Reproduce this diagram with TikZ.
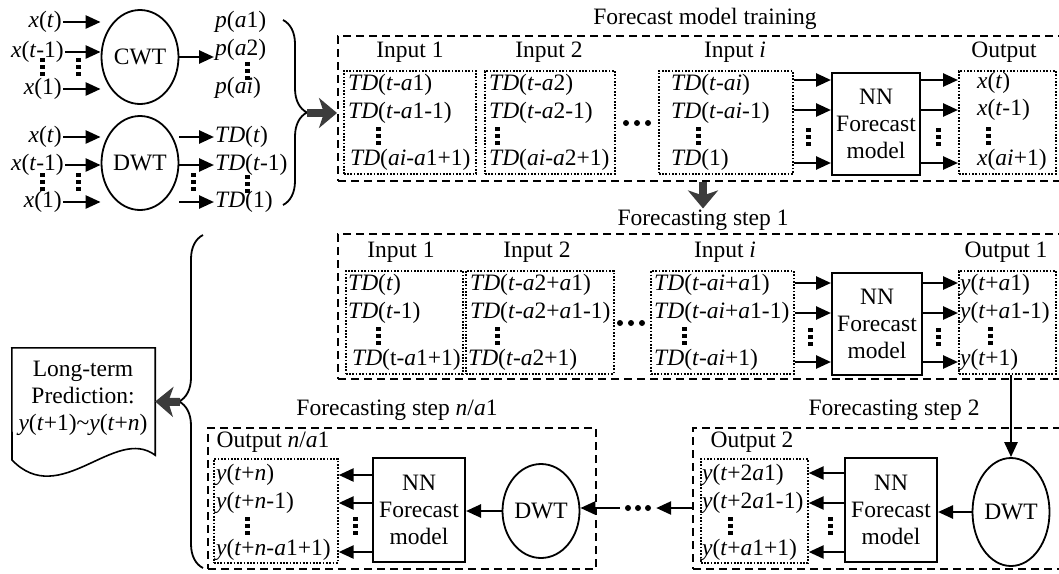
\documentclass[tikz,border=0pt]{standalone}
\usepackage{fontspec}
\setmainfont{Liberation Serif}
\usepackage{tikz}
\usetikzlibrary{arrows.meta,calc,positioning,shapes.geometric,decorations.pathreplacing}
\definecolor{arrowgray}{HTML}{3C3C3C}
\newcommand{\vi}[1]{\textit{#1}}

\begin{document}
\begin{tikzpicture}[x=1pt,y=-1pt,
  font=\fontsize{23.5}{27}\selectfont,
  lbl/.style={inner sep=1pt},
  arr/.style={line width=2.6pt,-{Triangle[length=15pt,width=13pt]}},
  wt/.style={draw,ellipse,line width=1.8pt,minimum width=77pt,minimum height=94pt,inner sep=0pt},
  nnbox/.style={draw,line width=2pt,minimum width=89pt,minimum height=102pt,align=center,inner sep=0pt},
  dotbox/.style={draw,line width=1.7pt,dash pattern=on 1.7pt off 1.6pt,anchor=north west,inner sep=0pt},
  dashbox/.style={draw,line width=2pt,dash pattern=on 8pt off 5pt,anchor=north west,inner sep=0pt},
  vdots/.style={line width=5pt,dash pattern=on 4pt off 3pt},
  curly/.style={line width=1.8pt,decorate,decoration={brace,amplitude=24pt}},
  bigarr/.style={arrowgray,line width=8pt,-{Stealth[length=18pt,width=30pt,inset=5pt]}},
  hd/.style={minimum width=36pt,minimum height=6pt,inner sep=0pt}]
  \useasboundingbox (0,0) rectangle (1059,573);
  \clip (0,0) rectangle (1059,573);

  % wavelet transforms of the input series
  \node[wt] (cwt) at (140,57) {CWT};
  \node[wt] (dwt) at (140,163) {DWT};
  \node[lbl,anchor=east] (xa) at (63,22) {\vi{x}(\vi{t})};
  \node[lbl,anchor=east] (xb) at (65,52) {\vi{x}(\vi{t}-1)};
  \node[lbl,anchor=east] (xc) at (63,89) {\vi{x}(1)};
  \node[lbl,anchor=east] (xd) at (63,137) {\vi{x}(\vi{t})};
  \node[lbl,anchor=east] (xe) at (65,165) {\vi{x}(\vi{t}-1)};
  \node[lbl,anchor=east] (xf) at (63,202) {\vi{x}(1)};
  \foreach \n in {xa,xb,xc} \draw[arr] (\n.east) -- (\n.east -| cwt.west);
  \foreach \n in {xd,xe,xf} \draw[arr] (\n.east) -- (\n.east -| dwt.west);
  \foreach \x in {42,78} {
    \draw[vdots] (\x,58) -- (\x,78);
    \draw[vdots] (\x,173) -- (\x,193);
  }
  \node[lbl,anchor=west] (pa) at (214,22) {\vi{p}(\vi{a}1)};
  \node[lbl,anchor=west] (pb) at (214,50) {\vi{p}(\vi{a}2)};
  \node[lbl,anchor=west] (pc) at (214,88) {\vi{p}(\vi{ai})};
  \draw[arr] (cwt.east) -- (cwt.east -| pb.west);
  \draw[vdots] (247,62) -- (247,82);
  \node[lbl,anchor=west] (tda) at (214,137) {\vi{TD}(\vi{t})};
  \node[lbl,anchor=west] (tdb) at (214,165) {\vi{TD}(\vi{t}-1)};
  \node[lbl,anchor=west] (tdc) at (214,202) {\vi{TD}(1)};
  \foreach \n in {tda,tdb,tdc} \draw[arr] (\n.west -| dwt.east) -- (\n.west);
  \draw[vdots] (193,173) -- (193,193);
  \draw[vdots] (247,175) -- (247,195);
  \draw[curly] (283,20) -- (283,205);
  \coordinate (btip) at (307,113);

  % forecast model training
  \node[lbl] (traint) at (705,19) {Forecast model training};
  \node[dashbox,minimum width=740pt,minimum height=145pt] (train) at (337,35) {};
  \draw[bigarr] (btip) -- (btip -| train.west);
  \node[lbl] (tl1) at (410,52) {Input 1};
  \node[lbl] (tl2) at (549,52) {Input 2};
  \node[lbl] (tli) at (735,52) {Input \vi{i}};
  \node[lbl] (tlo) at (1004,52) {Output};
  \node[dotbox,minimum width=132pt,minimum height=103pt] (tin1) at (343,70) {};
  \node[dotbox,minimum width=130pt,minimum height=103pt] (tin2) at (484,70) {};
  \node[dotbox,minimum width=134pt,minimum height=103pt] (tini) at (658,70) {};
  \node[dotbox,minimum width=97pt,minimum height=103pt] (tout) at (958,70) {};
  \node[lbl,anchor=west] (tin1a) at (347,85) {\vi{TD}(\vi{t}-\vi{a}1)};
  \node[lbl,anchor=west] (tin1b) at (347,113) {\vi{TD}(\vi{t}-\vi{a}1-1)};
  \node[lbl,anchor=west] (tin1c) at (349,160) {\vi{TD}(\vi{ai}-\vi{a}1+1)};
  \node[lbl,anchor=west] (tin2a) at (488,85) {\vi{TD}(\vi{t}-\vi{a}2)};
  \node[lbl,anchor=west] (tin2b) at (488,113) {\vi{TD}(\vi{t}-\vi{a}2-1)};
  \node[lbl,anchor=west] (tin2c) at (488,160) {\vi{TD}(\vi{ai}-\vi{a}2+1)};
  \node[lbl,anchor=west] (tinia) at (670,85) {\vi{TD}(\vi{t}-\vi{ai})};
  \node[lbl,anchor=west] (tinib) at (670,113) {\vi{TD}(\vi{t}-\vi{ai}-1)};
  \node[lbl,anchor=west] (tinic) at (670,160) {\vi{TD}(1)};
  \node[lbl,anchor=west] (touta) at (976,83) {\vi{x}(\vi{t})};
  \node[lbl,anchor=west] (toutb) at (976,110) {\vi{x}(\vi{t}-1)};
  \node[lbl,anchor=west] (toutc) at (976,160) {\vi{x}(\vi{ai}+1)};
  \foreach \x in {378,497,698,988} \draw[vdots] (\x,127) -- (\x,147);
  \foreach \x in {626,637,648} \fill (\x,123) circle (3pt);
  \node[nnbox,minimum width=88pt] (tnn) at (876,124) {NN\\Forecast\\model};
  \foreach \y in {80,110,163} {
    \draw[arr] (tini.east |- 0,\y) -- (tnn.west |- 0,\y);
    \draw[arr] (tnn.east |- 0,\y) -- (tout.west |- 0,\y);
  }
  \draw[vdots] (808,128) -- (808,148);
  \draw[vdots] (938,128) -- (938,148);

  % forecasting step 1
  \node[lbl] (s1t) at (703,220) {Forecasting step 1};
  \draw[bigarr] (train.south -| s1t) -- (s1t.north);
  \node[dashbox,minimum width=740pt,minimum height=145pt] (step1) at (337,233) {};
  \node[lbl] (ml1) at (401,252) {Input 1};
  \node[lbl] (ml2) at (537,252) {Input 2};
  \node[lbl] (mli) at (725,252) {Input \vi{i}};
  \node[lbl] (mlo) at (1006,252) {Output 1};
  \node[dotbox,minimum width=117pt,minimum height=103pt] (min1) at (345,270) {};
  \node[dotbox,minimum width=148pt,minimum height=103pt] (min2) at (465,270) {};
  \node[dotbox,minimum width=143pt,minimum height=103pt] (mini) at (650,270) {};
  \node[dotbox,minimum width=97pt,minimum height=103pt] (mout) at (958,270) {};
  \node[lbl,anchor=west] (min1a) at (347,285) {\vi{TD}(\vi{t})};
  \node[lbl,anchor=west] (min1b) at (347,313) {\vi{TD}(\vi{t}-1)};
  \node[lbl,anchor=west] (min1c) at (351,360) {\vi{TD}(t-\vi{a}1+1)};
  \node[lbl,anchor=west] (min2a) at (469,285) {\vi{TD}(\vi{t}-\vi{a}2+\vi{a}1)};
  \node[lbl,anchor=west] (min2b) at (469,313) {\vi{TD}(\vi{t}-\vi{a}2+\vi{a}1-1)};
  \node[lbl,anchor=west] (min2c) at (467,360) {\vi{TD}(\vi{t}-\vi{a}2+1)};
  \node[lbl,anchor=west] (minia) at (653,285) {\vi{TD}(\vi{t}-\vi{ai}+\vi{a}1)};
  \node[lbl,anchor=west] (minib) at (653,313) {\vi{TD}(\vi{t}-\vi{ai}+\vi{a}1-1)};
  \node[lbl,anchor=west] (minic) at (653,360) {\vi{TD}(\vi{t}-\vi{ai}+1)};
  \node[lbl,anchor=west] (mouta) at (959,285) {\vi{y}(\vi{t}+\vi{a}1)};
  \node[lbl,anchor=west] (moutb) at (959,313) {\vi{y}(\vi{t}+\vi{a}1-1)};
  \node[lbl,anchor=west] (moutc) at (959,360) {\vi{y}(\vi{t}+1)};
  \foreach \x in {378,497,684,990} \draw[vdots] (\x,327) -- (\x,347);
  \foreach \x in {620,631,642} \fill (\x,323) circle (3pt);
  \node[nnbox,minimum width=90pt] (mnn) at (877,324) {NN\\Forecast\\model};
  \foreach \y in {283,313,362} {
    \draw[arr] (mini.east |- 0,\y) -- (mnn.west |- 0,\y);
    \draw[arr] (mnn.east |- 0,\y) -- (mout.west |- 0,\y);
  }
  \draw[vdots] (810,328) -- (810,348);
  \draw[vdots] (938,328) -- (938,348);

  % forecasting step 2
  \node[lbl] (s2t) at (894,410) {Forecasting step 2};
  \node[dashbox,minimum width=380pt,minimum height=141pt] (step2) at (692,427) {};
  \node[lbl] (o2l) at (752,442) {Output 2};
  \node[dotbox,minimum width=107pt,minimum height=104pt] (bout2) at (700,458) {};
  \node[lbl,anchor=west] (bout2a) at (701,475) {\vi{y}(\vi{t}+2\vi{a}1)};
  \node[lbl,anchor=west] (bout2b) at (701,503) {\vi{y}(\vi{t}+2\vi{a}1-1)};
  \node[lbl,anchor=west] (bout2c) at (701,550) {\vi{y}(\vi{t}+\vi{a}1+1)};
  \draw[vdots] (730,517) -- (730,537);
  \node[nnbox,minimum width=92pt,minimum height=104pt] (bnn2) at (891,510) {NN\\Forecast\\model};
  \node[wt,minimum height=108pt] (dwt2) at (1011,512) {DWT};
  \draw[arr] (mout.south -| dwt2.north) -- (dwt2.north);
  \draw[arr] (dwt2.west) -- (dwt2.west -| bnn2.east);
  \foreach \y in {473,503,552} \draw[arr] (bnn2.west |- 0,\y) -- (bout2.east |- 0,\y);
  \draw[vdots] (830,517) -- (830,537);

  % forecasting step n/a1
  \node[hd] (hd3) at (638,508) {};
  \foreach \dx in {-10,0,10} \fill ($(hd3)+(\dx,0)$) circle (3pt);
  \draw[arr] (step2.west |- hd3) -- (hd3.east);
  \node[lbl] (snt) at (397,410) {Forecasting step \vi{n}/\vi{a}1};
  \node[dashbox,minimum width=388pt,minimum height=141pt] (stepn) at (207,427) {};
  \node[lbl] (onl) at (273,442) {Output \vi{n}/\vi{a}1};
  \node[dotbox,minimum width=124pt,minimum height=104pt] (boutn) at (213,458) {};
  \node[lbl,anchor=west] (boutna) at (215,475) {\vi{y}(\vi{t}+\vi{n})};
  \node[lbl,anchor=west] (boutnb) at (215,503) {\vi{y}(\vi{t}+\vi{n}-1)};
  \node[lbl,anchor=west] (boutnc) at (215,550) {\vi{y}(\vi{t}+\vi{n}-\vi{a}1+1)};
  \draw[vdots] (247,517) -- (247,537);
  \node[nnbox,minimum width=92pt,minimum height=104pt] (bnn1) at (419,510) {NN\\Forecast\\model};
  \node[wt] (dwt1) at (541,511) {DWT};
  \draw[arr] (hd3.west) -- (hd3.west -| dwt1.east);
  \draw[arr] (dwt1.west) -- (dwt1.west -| bnn1.east);
  \foreach \y in {475,503,552} \draw[arr] (bnn1.west |- 0,\y) -- (boutn.east |- 0,\y);
  \draw[vdots] (355,517) -- (355,537);

  % long-term prediction
  \draw[curly] (203,568) -- (203,235);
  \coordinate (ltip) at (180,402);
  \node[minimum width=143pt,minimum height=107pt,inner sep=0pt] (docbox) at (83.5,401.5) {};
  \draw[line width=1.6pt] (docbox.north west) -- (docbox.north east) -- (docbox.south east)
    .. controls (115,425) and (60,510) .. (12,460) -- cycle;
  \node[align=center,inner sep=0pt] (doct) at (83,398) {Long-term\\Prediction:\\\vi{y}(\vi{t}+1)\textasciitilde\vi{y}(\vi{t}+\vi{n})};
  \draw[bigarr] (ltip) -- (docbox.east);
\end{tikzpicture}
\end{document}
